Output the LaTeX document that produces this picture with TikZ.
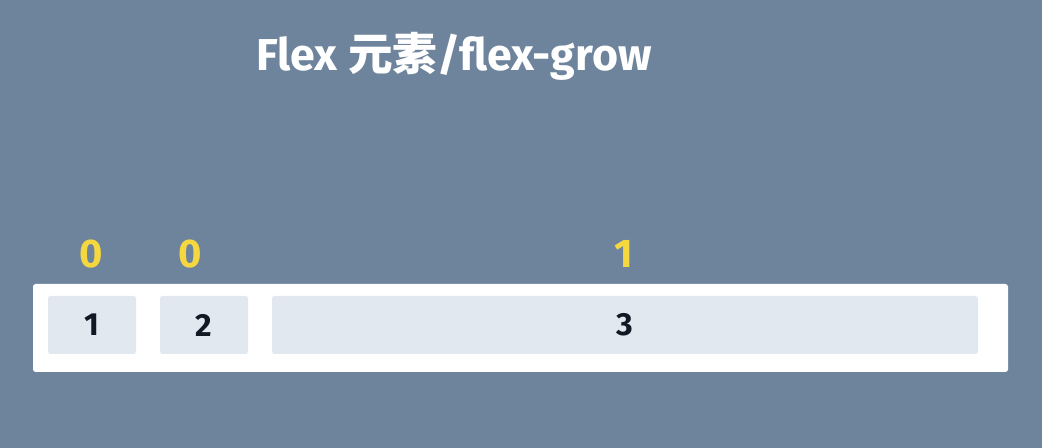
\documentclass[tikz,border=0pt]{standalone}
\usepackage{fontspec}
\setmainfont{Fira Sans}
\newfontfamily\cjk{Noto Sans CJK SC}
\usepackage{xcolor}
\definecolor{slatebg}{HTML}{6E849C}
\definecolor{itemfill}{HTML}{E1E8F0}
\definecolor{growyellow}{HTML}{F5D840}
\definecolor{darktext}{HTML}{111A24}
\usetikzlibrary{positioning}

\begin{document}
\begin{tikzpicture}[x=0.75pt, y=-0.75pt,
    flexbox/.style={fill=white, rounded corners=2pt},
    flexitem/.style={fill=itemfill, rounded corners=2pt},
    itemnum/.style={darktext, font=\fontsize{24}{26}\selectfont\bfseries},
    grownum/.style={growyellow, font=\fontsize{30}{32}\selectfont\bfseries}]
        \fill[slatebg] (0,0) rectangle (1042,448);
        \useasboundingbox (0,0) rectangle (1042,448);
        % title
        \node[white, font=\fontsize{33.5}{36}\selectfont\bfseries] (title) at (454,56) {Flex {\cjk\bfseries 元素}/flex-grow};
        % container and items
        \path[flexbox] (33,284) rectangle (1008,372);
        \path[flexitem] (48,296) rectangle (136,354);
        \path[flexitem] (160,296) rectangle (248,354);
        \path[flexitem] (272,296) rectangle (978,354);
        \node[itemnum] (item1) at (92,325) {1};
        \node[itemnum] (item2) at (204,325) {2};
        \node[itemnum] (item3) at (625,325) {3};
        % flex-grow values
        \node[grownum] (grow1) at (91,254) {0};
        \node[grownum] (grow2) at (190,254) {0};
        \node[grownum] (grow3) at (624,254) {1};
      \end{tikzpicture}
\end{document}
